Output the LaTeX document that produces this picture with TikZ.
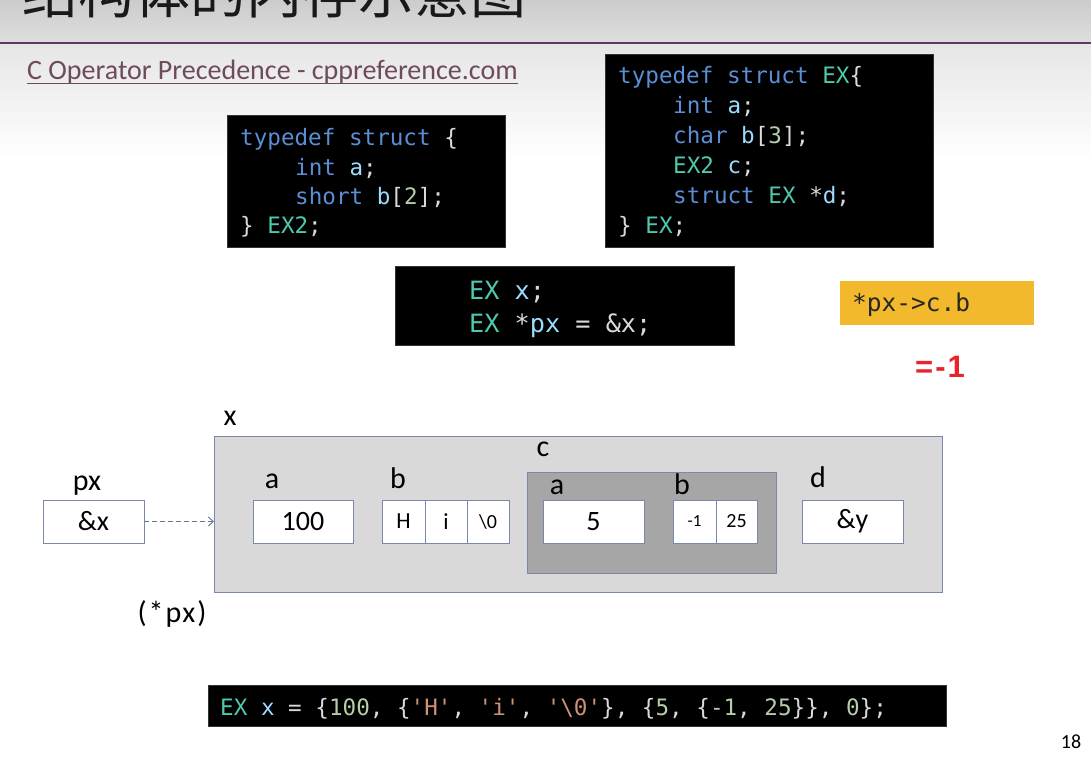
\documentclass[tikz,border=0pt]{standalone}
\usepackage{fontspec}
\setmainfont{Carlito}
\setmonofont{DejaVu Sans Mono}
\newfontfamily\cjkfont{Noto Sans CJK SC}
\newfontfamily\arialfont{Liberation Sans}
\usetikzlibrary{arrows.meta}
\definecolor{kw}{HTML}{5A8FD6}
\definecolor{var}{HTML}{9CDCFE}
\definecolor{typ}{HTML}{4EC9B0}
\definecolor{num}{HTML}{B5CEA8}
\definecolor{str}{HTML}{CE9178}
\definecolor{pun}{HTML}{DADADA}
\definecolor{edge}{HTML}{7A88AE}
\definecolor{outerfill}{HTML}{D9D9D9}
\definecolor{cfill}{HTML}{A6A6A6}
\definecolor{linkc}{HTML}{6E4A5E}
\definecolor{rulec}{HTML}{5C3A64}
\definecolor{hl}{HTML}{F2B92C}
\definecolor{redc}{HTML}{E8232A}
\newcommand\ckw[1]{\textcolor{kw}{#1}}
\newcommand\cvar[1]{\textcolor{var}{#1}}
\newcommand\ctyp[1]{\textcolor{typ}{#1}}
\newcommand\cnum[1]{\textcolor{num}{#1}}
\newcommand\cstr[1]{\textcolor{str}{#1}}
\newcommand\qq[1]{\textquotesingle#1\textquotesingle}
\tikzset{
  codebox/.style={draw=black!80, fill=black, inner sep=0, anchor=north west},
  codeline/.style={anchor=base west, inner sep=0, text=pun, font=\ttfamily\fontsize{22.6}{28}\selectfont},
  bigcode/.style={codeline, font=\ttfamily\fontsize{24.5}{28}\selectfont},
  valbox/.style={draw=edge, fill=white, inner sep=0, minimum height=43pt, font=\fontsize{28}{30}\selectfont},
  lbl/.style={anchor=base, inner sep=0, font=\fontsize{30}{32}\selectfont},
}
\begin{document}
\begin{tikzpicture}[x=1pt, y=-1pt]
\useasboundingbox (0,0) rectangle (1091,758);
\fill[white] (0,0) rectangle (1091,758);
\begin{scope}
\clip (0,0) rectangle (1091,758);
\shade[top color=black!20, bottom color=black!13] (0,0) rectangle (1091,43);
\shade[top color=black!10, bottom color=white] (0,43) rectangle (1091,160);
\node[anchor=base west, inner sep=0, text=black!90, font=\cjkfont\fontsize{56}{60}\selectfont] (title) at (22,13) {结构体的内存示意图};
\end{scope}
\coordinate (ruleL) at (0,43);
\coordinate (ruleR) at (1091,43);
\draw[rulec, line width=2pt] (ruleL) -- (ruleR);
\node[anchor=base west, inner sep=0, text=linkc, font=\fontsize{28}{30}\selectfont] (link) at (27,79) {C Operator Precedence - cppreference.com};
\draw[linkc, line width=1.2pt] (link.south west) -- (link.south east);

% code box 1
\node[codebox, minimum width=278pt, minimum height=132pt] (cb1) at (227,115) {};
\node[codeline] (l11) at (240,145) {\ckw{typedef struct} \{};
\node[codeline] (l12) at (295,175) {\ckw{int} \cvar{a};};
\node[codeline] (l13) at (295,204) {\ckw{short} \cvar{b}[\cnum{2}];};
\node[codeline] (l14) at (240,233) {\} \ctyp{EX2};};

% code box 2
\node[codebox, minimum width=328pt, minimum height=193pt] (cb2) at (605,54) {};
\node[codeline] (l21) at (618,83) {\ckw{typedef struct} \ctyp{EX}\{};
\node[codeline] (l22) at (673,113) {\ckw{int} \cvar{a};};
\node[codeline] (l23) at (673,143) {\ckw{char} \cvar{b}[\cnum{3}];};
\node[codeline] (l24) at (673,173) {\ctyp{EX2} \cvar{c};};
\node[codeline] (l25) at (673,203) {\ckw{struct} \ctyp{EX} *\cvar{d};};
\node[codeline] (l26) at (618,233) {\} \ctyp{EX};};

% code box 3
\node[codebox, minimum width=339pt, minimum height=79pt] (cb3) at (395,266) {};
\node[codeline, font=\ttfamily\fontsize{25.2}{28}\selectfont] (l31) at (469,299) {\ctyp{EX} \cvar{x};};
\node[codeline, font=\ttfamily\fontsize{25.2}{28}\selectfont] (l32) at (469,332) {\ctyp{EX} *\cvar{px} = \&x;};

% highlighted expression
\node[fill=hl, inner sep=0, minimum width=194pt, minimum height=44pt, anchor=north west] (hlbox) at (840,281) {};
\node[bigcode, text=black!85] (expr) at (852,311) {*px->c.b};
\node[anchor=base west, inner sep=0, text=redc, font=\arialfont\bfseries\fontsize{31}{33}\selectfont] (res) at (915,377) {=\kern2pt-\kern2pt1};

% memory diagram
\node[lbl] (xl) at (230,425) {x};
\node[draw=edge, fill=outerfill, inner sep=0, minimum width=728pt, minimum height=156pt, anchor=north west] (X) at (214,436) {};
\node[draw=edge, fill=cfill, inner sep=0, minimum width=249pt, minimum height=101pt, anchor=north west] (C) at (527,472) {};

\node[lbl] (pxl) at (87,490) {px};
\node[valbox, minimum width=101pt] (px) at (93.5,521.5) {\&x};
\node[lbl] (al) at (272,488) {a};
\node[valbox, minimum width=100pt] (a) at (303,521.5) {100};
\node[lbl] (bl) at (398,488) {b};
\node[valbox, minimum width=43pt, font=\fontsize{23}{24}\selectfont] (b0) at (403.5,521.5) {H};
\node[valbox, minimum width=42pt, font=\fontsize{23}{24}\selectfont] (b1) at (446,521.5) {i};
\node[valbox, minimum width=42pt, font=\fontsize{20}{22}\selectfont] (b2) at (488,521.5) {\textbackslash 0};
\node[lbl] (cl) at (543,456) {c};
\node[lbl] (cal) at (557,494) {a};
\node[valbox, minimum width=101pt] (ca) at (593.5,521.5) {5};
\node[lbl] (cbl) at (682,494) {b};
\node[valbox, minimum width=43pt, font=\fontsize{17}{18}\selectfont] (cb0) at (694.5,521.5) {-1};
\node[valbox, minimum width=41pt, font=\fontsize{20}{22}\selectfont] (cb1v) at (736.5,521.5) {25};
\node[lbl] (dl) at (818,487) {d};
\node[valbox, minimum width=101pt] (d) at (852.5,521.5) {\&y};
\node[lbl] (deref) at (172,622) {(\kern2pt*\kern2pt p\kern1pt x\kern2pt)};

\draw[edge!85!black, line width=0.9pt, dash pattern=on 5pt off 3pt, -{Straight Barb[length=5pt, width=9pt]}] (px.east) -- (px.east -| X.west);

% initializer
\node[codebox, minimum width=738pt, minimum height=41pt] (cb4) at (208,685) {};
\node[codeline] (l41) at (220,715) {\ctyp{EX} \cvar{x} = \{\cnum{100}, \{\cstr{\qq{H}}, \cstr{\qq{i}}, \cstr{\qq{\textbackslash 0}}\}, \{\cnum{5}, \{\cnum{-1}, \cnum{25}\}\}, \cnum{0}\};};

\node[anchor=base, inner sep=0, font=\fontsize{20}{22}\selectfont] (pg) at (1071,748) {18};
\end{tikzpicture}
\end{document}
